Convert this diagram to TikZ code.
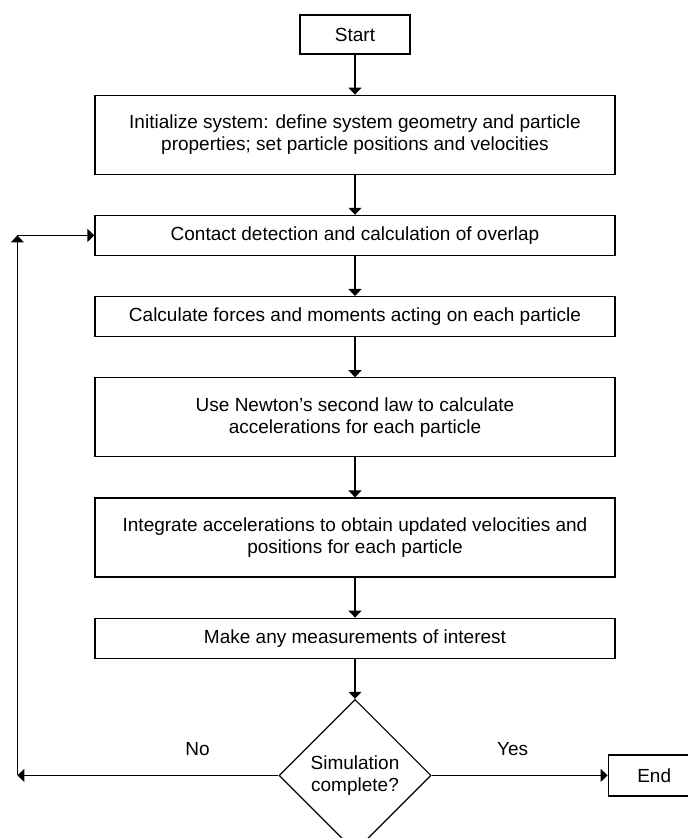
\documentclass[tikz,border=0pt]{standalone}
\usepackage{fontspec}
\setmainfont{Liberation Sans}
\usetikzlibrary{arrows.meta, positioning, shapes.geometric}

\begin{document}
\begin{tikzpicture}[
    x=0.5pt, y=-0.5pt,
    node distance=20pt,
    >={Triangle[length=3.5pt, width=6.5pt]},
    line width=0.6pt,
    every node/.style={font=\fontsize{9.5}{11.2}\selectfont},
    process/.style={rectangle, draw, minimum width=260pt, minimum height=20pt, align=center, inner sep=2pt},
    tall/.style={process, minimum height=39.5pt},
    terminal/.style={rectangle, draw, minimum width=55pt, minimum height=19.5pt},
    decision/.style={diamond, draw, minimum width=76pt, minimum height=76pt, inner sep=0pt, align=center},
    answer/.style={yshift=13pt},
  ]
  \useasboundingbox (0,0) rectangle (688,838);
  \clip (0,0) rectangle (688,838);

  \node[terminal] (start) at (355,34.5) {Start};
  \node[tall, below=of start] (init) {Initialize system: define system geometry and particle\\properties; set particle positions and velocities};
  \node[process, below=of init] (contact) {Contact detection and calculation of overlap};
  \node[process, below=of contact] (forces) {Calculate forces and moments acting on each particle};
  \node[tall, below=of forces] (newton) {Use Newton’s second law to calculate\\accelerations for each particle};
  \node[tall, below=of newton] (integrate) {Integrate accelerations to obtain updated velocities and\\positions for each particle};
  \node[process, below=of integrate] (measure) {Make any measurements of interest};
  \node[decision, below=of measure] (done) {Simulation\\complete?};
  \node[terminal, right=88pt of done, minimum width=46pt, minimum height=20.5pt] (end) {End};

  % loop back to contact detection
  \coordinate[left=130.5pt of done.west] (nobend);
  \coordinate (upbend) at (nobend |- contact.west);

  \draw[->] (start) -- (init);
  \draw[->] (init) -- (contact);
  \draw[->] (contact) -- (forces);
  \draw[->] (forces) -- (newton);
  \draw[->] (newton) -- (integrate);
  \draw[->] (integrate) -- (measure);
  \draw[->] (measure) -- (done);
  \draw[->] (done) -- node[answer, pos=0.31] {No} (nobend);
  \draw[->] (nobend) -- (upbend);
  \draw[->] (upbend) -- (contact);
  \draw[->] (done) -- node[answer, pos=0.46] {Yes} (end);
\end{tikzpicture}
\end{document}
